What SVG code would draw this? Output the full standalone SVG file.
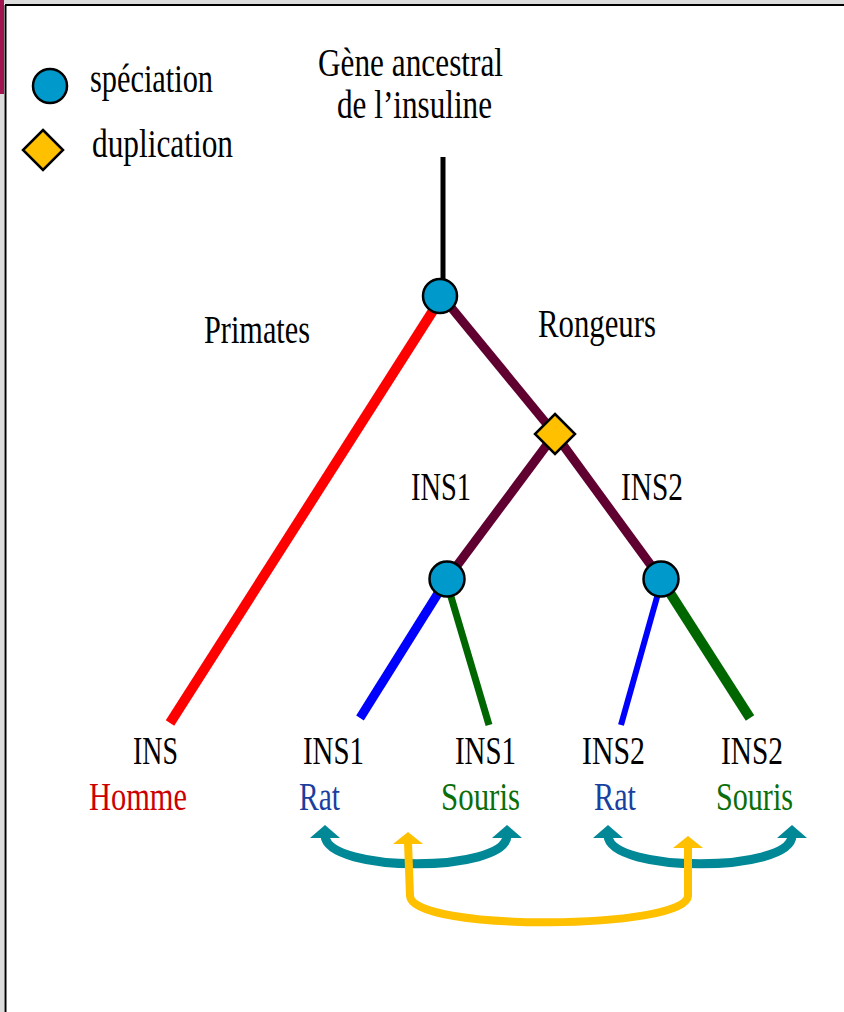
<svg xmlns="http://www.w3.org/2000/svg" width="844" height="1012" viewBox="0 0 844 1012">
<style>
text{font-family:"Liberation Serif","DejaVu Serif",serif;font-size:39px;fill:#000}
.br{fill:none;stroke-linecap:butt}
.sp{fill:#0099cc;stroke:#000;stroke-width:2.5}
.du{fill:#ffc000;stroke:#000;stroke-width:2.5}
.teal{fill:none;stroke:#008896;stroke-width:9}
.yel{fill:none;stroke:#ffc000;stroke-width:8}
</style>
<defs>
<marker id="ah-teal" viewBox="0 0 30 13" refX="15" refY="11" markerWidth="30" markerHeight="13" markerUnits="userSpaceOnUse" orient="0">
<path d="M0,13 L15,0 L30,13 Z" fill="#008896"/>
</marker>
<marker id="ah-yel" viewBox="0 0 30 12" refX="15" refY="10" markerWidth="30" markerHeight="12" markerUnits="userSpaceOnUse" orient="0">
<path d="M0,12 L15,0 L30,12 Z" fill="#ffc000"/>
</marker>
</defs>
<rect x="0" y="0" width="844" height="1012" fill="#ffffff"/>
<rect x="0" y="0" width="844" height="4" fill="#dcdcdc"/>
<rect x="0" y="0" width="4" height="1012" fill="#dcdcdc"/>
<rect x="0" y="0" width="4" height="94" fill="#a0144f"/>
<line x1="5.5" y1="5" x2="5.5" y2="1012" stroke="#000" stroke-width="2"/>
<line x1="5" y1="5" x2="844" y2="5" stroke="#000" stroke-width="2"/>

<g id="legend">
<circle class="sp" cx="50" cy="86" r="17"/>
<text x="90" y="92" textLength="123" lengthAdjust="spacingAndGlyphs">spéciation</text>
<polygon class="du" points="43,130 63,150 43,170 23,150"/>
<text x="92" y="157" textLength="141" lengthAdjust="spacingAndGlyphs">duplication</text>
</g>

<g id="title">
<text x="318" y="76" textLength="185" lengthAdjust="spacingAndGlyphs">Gène ancestral</text>
<text x="337" y="118" textLength="155" lengthAdjust="spacingAndGlyphs">de l’insuline</text>
</g>

<g id="connectors">
<line class="br" x1="443" y1="157" x2="443" y2="282" stroke="#000" stroke-width="5"/>
<line class="br" x1="436" y1="306" x2="170" y2="723" stroke="#ff0000" stroke-width="10"/>
<line class="br" x1="445" y1="300" x2="555" y2="434" stroke="#600030" stroke-width="9"/>
<line class="br" x1="555" y1="434" x2="447" y2="579" stroke="#600030" stroke-width="9"/>
<line class="br" x1="555" y1="434" x2="661" y2="579" stroke="#600030" stroke-width="9"/>
<line class="br" x1="447" y1="579" x2="360" y2="718" stroke="#0000ff" stroke-width="9"/>
<line class="br" x1="449" y1="590" x2="489" y2="725" stroke="#006600" stroke-width="7"/>
<line class="br" x1="659" y1="590" x2="621" y2="725" stroke="#0000ff" stroke-width="6"/>
<line class="br" x1="663" y1="582" x2="750" y2="718" stroke="#006600" stroke-width="10"/>
<path class="teal" d="M325,836 C328,873 505,873 507,836" marker-start="url(#ah-teal)" marker-end="url(#ah-teal)"/>
<path class="teal" d="M608,836 C611,873 790,873 792,836" marker-start="url(#ah-teal)" marker-end="url(#ah-teal)"/>
<path class="yel" d="M408,842 L410,896 C412,932 686,930 688,896 L688,846" marker-start="url(#ah-yel)" marker-end="url(#ah-yel)"/>
</g>

<g id="root"><circle class="sp" cx="440" cy="296" r="17"/></g>
<g id="dup"><polygon class="du" points="555,414 575,434 555,454 535,434"/></g>
<g id="ins1-node"><circle class="sp" cx="447" cy="579" r="17.5"/></g>
<g id="ins2-node"><circle class="sp" cx="661" cy="579" r="17.5"/></g>

<g id="labels">
<text x="204" y="343" textLength="106" lengthAdjust="spacingAndGlyphs">Primates</text>
<text x="538" y="337" textLength="118" lengthAdjust="spacingAndGlyphs">Rongeurs</text>
<text x="411" y="500" textLength="60" lengthAdjust="spacingAndGlyphs">INS1</text>
<text x="621" y="500" textLength="62" lengthAdjust="spacingAndGlyphs">INS2</text>
</g>

<g id="leaf-homme">
<text x="133" y="764" textLength="45" lengthAdjust="spacingAndGlyphs">INS</text>
<text x="89" y="810" textLength="98" lengthAdjust="spacingAndGlyphs" style="fill:#cc0000">Homme</text>
</g>
<g id="leaf-ins1-rat">
<text x="303" y="764" textLength="61" lengthAdjust="spacingAndGlyphs">INS1</text>
<text x="299" y="810" textLength="41" lengthAdjust="spacingAndGlyphs" style="fill:#1a3fa0">Rat</text>
</g>
<g id="leaf-ins1-souris">
<text x="455" y="764" textLength="61" lengthAdjust="spacingAndGlyphs">INS1</text>
<text x="441" y="810" textLength="79" lengthAdjust="spacingAndGlyphs" style="fill:#0a6e0a">Souris</text>
</g>
<g id="leaf-ins2-rat">
<text x="582" y="764" textLength="63" lengthAdjust="spacingAndGlyphs">INS2</text>
<text x="594" y="810" textLength="42" lengthAdjust="spacingAndGlyphs" style="fill:#1a3fa0">Rat</text>
</g>
<g id="leaf-ins2-souris">
<text x="721" y="764" textLength="62" lengthAdjust="spacingAndGlyphs">INS2</text>
<text x="716" y="810" textLength="77" lengthAdjust="spacingAndGlyphs" style="fill:#0a6e0a">Souris</text>
</g>
</svg>
